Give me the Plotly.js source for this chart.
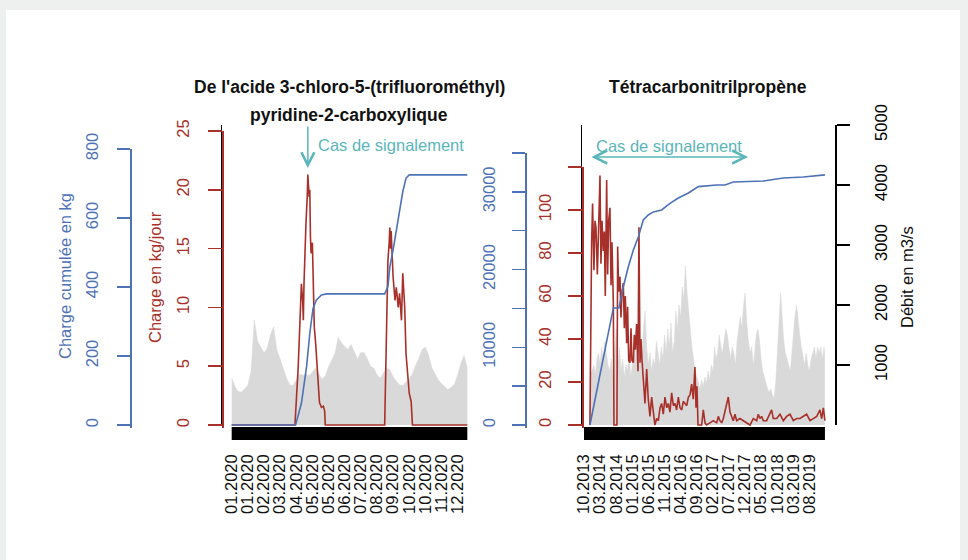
<!DOCTYPE html>
<html><head><meta charset="utf-8">
<script src="https://cdn.plot.ly/plotly-3.0.1.min.js"></script>
<style>html,body{margin:0;padding:0;background:#eef0ef}#chart{width:968px;height:560px}</style>
</head><body><div id="chart"></div>
<script>
// ---------------- LEFT PANEL DATA (2020) ----------------
const leftGrayDates = ['2020-01-01','2020-01-06','2020-01-11','2020-01-16','2020-01-21','2020-01-26','2020-01-31','2020-02-05','2020-02-10','2020-02-15',
'2020-02-20','2020-02-25','2020-03-01','2020-03-06','2020-03-11','2020-03-16','2020-03-21','2020-03-26','2020-03-31','2020-04-05',
'2020-04-10','2020-04-15','2020-04-20','2020-04-25','2020-04-30','2020-05-05','2020-05-10','2020-05-15','2020-05-20','2020-05-25',
'2020-05-30','2020-06-04','2020-06-09','2020-06-14','2020-06-19','2020-06-24','2020-06-29','2020-07-04','2020-07-09','2020-07-14',
'2020-07-19','2020-07-24','2020-07-29','2020-08-03','2020-08-08','2020-08-13','2020-08-18','2020-08-23','2020-08-28','2020-09-02',
'2020-09-07','2020-09-12','2020-09-17','2020-09-22','2020-09-27','2020-10-02','2020-10-07','2020-10-12','2020-10-17','2020-10-22',
'2020-10-27','2020-11-01','2020-11-06','2020-11-11','2020-11-16','2020-11-21','2020-11-26','2020-12-01','2020-12-06','2020-12-11',
'2020-12-16','2020-12-21','2020-12-26','2020-12-31'];
const leftGray = [780,640,560,550,600,660,900,1750,1400,1300,
1200,1280,1500,1640,1250,1100,950,780,670,660,
750,850,830,850,820,880,950,850,760,820,
970,1080,1190,1460,1370,1310,1260,1340,1220,1100,
1210,1210,1110,980,950,840,780,870,950,920,
810,730,670,660,710,770,850,1000,1110,1260,
1300,1170,960,860,750,690,640,590,630,680,
830,1030,1160,950];

const leftRedDates = ['2020-01-01','2020-04-08','2020-04-13','2020-04-15','2020-04-18','2020-04-20','2020-04-21','2020-04-22','2020-04-23','2020-04-25',
'2020-04-27','2020-04-28','2020-04-30','2020-05-01','2020-05-02','2020-05-03','2020-05-05','2020-05-06','2020-05-07','2020-05-08',
'2020-05-10','2020-05-11','2020-05-13','2020-05-16','2020-05-19','2020-05-22','2020-05-24','2020-05-25','2020-08-25','2020-08-28',
'2020-08-29','2020-08-30','2020-09-01','2020-09-02','2020-09-03','2020-09-04','2020-09-07','2020-09-10','2020-09-12','2020-09-15',
'2020-09-17','2020-09-20','2020-09-22','2020-09-25','2020-09-27','2020-09-30','2020-10-02','2020-10-05','2020-10-07','2020-12-31'];
const leftRed = [0,0,4.9,8,12,10.5,8.9,12,14,17,
19.4,21.3,19.4,20,16,14.6,15.5,12.3,9.5,8.3,
7,6.1,3.8,1.9,1.5,1.6,1.2,0,0,8.9,
12,14,15.5,16.8,15,16.5,12.6,10.6,11.7,10,
11.2,8.9,12.9,10,6.1,3.8,2.7,2,0,0];

const leftBlueDates = ['2020-01-01','2020-04-09','2020-04-18','2020-04-26','2020-05-01','2020-05-06','2020-05-11','2020-05-19','2020-05-27','2020-08-25',
'2020-08-30','2020-09-02','2020-09-07','2020-09-12','2020-09-17','2020-09-22','2020-09-27','2020-10-02','2020-12-31'];
const leftBlue = [0,0,63,169,266,338,362,377,380,380,401,459,507,565,623,676,715,725,725];

const leftTickDates = ['2020-01-01','2020-01-26','2020-02-20','2020-03-16','2020-04-10','2020-05-05','2020-05-30','2020-06-24','2020-07-19','2020-08-13','2020-09-07','2020-10-02','2020-10-27','2020-11-21','2020-12-16'];
const leftTickText = ['01.2020','01.2020','02.2020','03.2020','04.2020','05.2020','05.2020','06.2020','07.2020','08.2020','09.2020','10.2020','10.2020','11.2020','12.2020'];
const leftBand = ['2020-01-01','2020-12-31'];
const leftSignal = ['2020-04-28'];

// ---------------- RIGHT PANEL DATA (2013-2019) ----------------
const rightGrayDates = ['2013-12-01','2013-12-16',
'2014-01-01','2014-01-16','2014-02-01','2014-02-16','2014-03-01','2014-03-16','2014-04-01','2014-04-16','2014-05-01','2014-05-16','2014-06-01','2014-06-16','2014-07-01','2014-07-16','2014-08-01','2014-08-16','2014-09-01','2014-09-16','2014-10-01','2014-10-16','2014-11-01','2014-11-16','2014-12-01','2014-12-16',
'2015-01-01','2015-01-16','2015-02-01','2015-02-16','2015-03-01','2015-03-16','2015-04-01','2015-04-16','2015-05-01','2015-05-16','2015-06-01','2015-06-16','2015-07-01','2015-07-16','2015-08-01','2015-08-16','2015-09-01','2015-09-16','2015-10-01','2015-10-16','2015-11-01','2015-11-16','2015-12-01','2015-12-16',
'2016-01-01','2016-01-16','2016-02-01','2016-02-16','2016-03-01','2016-03-16','2016-04-01','2016-04-16','2016-05-01','2016-05-16','2016-06-01','2016-06-16','2016-07-01','2016-07-16','2016-08-01','2016-08-16','2016-09-01','2016-09-16','2016-10-01','2016-10-16','2016-11-01','2016-11-16','2016-12-01','2016-12-16',
'2017-01-01','2017-01-16','2017-02-01','2017-02-16','2017-03-01','2017-03-16','2017-04-01','2017-04-16','2017-05-01','2017-05-16','2017-06-01','2017-06-16','2017-07-01','2017-07-16','2017-08-01','2017-08-16','2017-09-01','2017-09-16','2017-10-01','2017-10-16','2017-11-01','2017-11-16','2017-12-01','2017-12-16',
'2018-01-01','2018-01-16','2018-02-01','2018-02-16','2018-03-01','2018-03-16','2018-04-01','2018-04-16','2018-05-01','2018-05-16','2018-06-01','2018-06-16','2018-07-01','2018-07-16','2018-08-01','2018-08-16','2018-09-01','2018-09-16','2018-10-01','2018-10-16','2018-11-01','2018-11-16','2018-12-01','2018-12-16',
'2019-01-01','2019-01-16','2019-02-01','2019-02-16','2019-03-01','2019-03-16','2019-04-01','2019-04-16','2019-05-01','2019-05-16','2019-06-01','2019-06-16','2019-07-01','2019-07-16','2019-08-01','2019-08-16','2019-09-01','2019-09-16','2019-10-01','2019-10-16','2019-11-01','2019-11-16','2019-12-01','2019-12-16',
'2019-12-24'];
const rightGray = [850,900,
1000,850,1100,1200,1000,1300,1100,1400,1200,1000,900,1100,800,1300,1600,1000,1300,900,1100,800,1000,900,1200,800,
1000,1300,1100,1500,1000,1300,1200,1600,1900,1300,1000,1200,900,1100,1000,1400,1200,1000,1300,1100,1500,1200,1600,1300,
1700,1200,1400,1900,1600,2000,1800,2300,2100,2650,2200,1900,1500,1300,1100,900,800,700,600,750,650,800,700,900,
750,1000,900,1300,1100,1200,1500,1300,1200,1400,1600,1500,1300,1100,1300,1200,1000,1400,1600,1800,1600,2000,2200,1700,
1400,1200,1300,1000,1200,1500,1600,1400,1100,900,800,700,600,550,600,500,450,700,1200,1600,2200,1800,1400,1200,
1100,1000,900,1200,1500,1800,2000,1700,1500,1300,1100,1000,1200,1000,900,1100,1200,1300,1100,1300,1200,1300,1100,1300,
1200];

const rightRedDates = ['2013-11-26','2013-12-03','2013-12-12','2013-12-21','2014-01-03','2014-01-13','2014-01-22','2014-02-04','2014-02-16','2014-03-01',
'2014-03-10','2014-03-20','2014-04-01','2014-04-11','2014-04-20','2014-05-03','2014-05-12','2014-05-22','2014-06-03','2014-06-13',
'2014-06-22','2014-07-05','2014-07-11','2014-08-08','2014-08-15','2014-08-24','2014-09-06','2014-09-15','2014-09-25','2014-10-07',
'2014-10-17','2014-10-26','2014-11-08','2014-11-17','2014-11-27','2014-12-09','2014-12-19','2014-12-28','2015-01-10','2015-01-19',
'2015-01-29','2015-02-10','2015-02-23','2015-03-04','2015-03-14','2015-03-23','2015-04-02','2015-04-14','2015-04-30','2015-05-16',
'2015-05-31','2015-06-16','2015-07-02','2015-07-18','2015-08-02','2015-08-18','2015-09-03','2015-09-19','2015-10-04','2015-10-20',
'2015-11-05','2015-11-21','2015-12-06','2015-12-22','2016-01-07','2016-01-23','2016-02-08','2016-02-23','2016-03-10','2016-03-26',
'2016-04-11','2016-04-26','2016-05-12','2016-05-28','2016-06-13','2016-06-28','2016-07-14','2016-07-29','2016-08-14','2016-08-24',
'2016-09-02','2016-09-12','2016-10-16','2016-11-01','2016-11-17','2016-12-02','2017-01-03','2017-02-03','2017-03-07','2017-03-23',
'2017-04-07','2017-04-23','2017-05-09','2017-05-25','2017-06-09','2017-06-25','2017-07-11','2017-07-27','2017-08-11','2017-08-27',
'2017-09-12','2017-10-13','2017-11-14','2017-12-15','2018-01-16','2018-02-16','2018-03-20','2018-04-04','2018-04-20','2018-05-06',
'2018-05-22','2018-06-22','2018-07-24','2018-08-08','2018-08-24','2018-09-25','2018-10-26','2018-11-27','2018-12-28','2019-01-29',
'2019-03-01','2019-04-01','2019-05-03','2019-06-04','2019-07-05','2019-08-06','2019-09-06','2019-10-08','2019-11-08','2019-11-24',
'2019-12-10','2019-12-25'];
const rightRed = [0,57,85,103,72,95,92,70,100,116,
75,95,81,90,60,114,70,95,101,65,
85,57,0,0,83,62,69,50,62,66,
45,60,38,55,30,29,45,30,29,42,
35,47,25,92,29,40,30,22,10,26,
12,4,13,6,0,3,2,8,10,5,
13,8,10,6,15,9,10,7,13,8,
7,11,10,9,13,14,19,12,27,8,
18,0,0,7,1,0,1,2,1,4,
2,1,3,6,10,13,6,4,2,5,
2,3,2,1,0,3,2,5,3,4,
2,2,5,7,3,3,5,2,4,5,
2,3,3,4,5,2,3,4,7,3,
8,2];

const rightBlueDates = ['2013-11-26','2014-07-05','2014-08-27','2014-10-07','2014-11-23','2015-01-10','2015-02-26','2015-04-14','2015-05-31','2015-07-18',
'2015-10-04','2015-12-22','2016-03-10','2016-06-13','2016-09-15','2017-03-07','2017-05-25','2017-08-11','2018-05-22','2018-11-27',
'2019-06-04','2019-12-25'];
const rightBlue = [0,15060,15060,17760,20330,22520,24200,26380,27030,27420,
27670,28520,29210,29860,30670,30890,30890,31270,31400,31790,
31920,32180];

const rightTickDates = ['2013-10-01','2014-03-01','2014-08-01','2015-01-01','2015-06-01','2015-11-01','2016-04-01','2016-09-01','2017-02-01','2017-07-01','2017-12-01','2018-05-01','2018-10-01','2019-03-01','2019-08-01'];
const rightTickText = ['10.2013','03.2014','08.2014','01.2015','06.2015','11.2015','04.2016','09.2016','02.2017','07.2017','12.2017','05.2018','10.2018','03.2019','08.2019'];
const rightBand = ['2013-10-01','2019-12-25'];
const rightSignal = ['2013-11-26','2017-12-28'];

// axis tick sets
const leftRedTicks = [0,5,10,15,20,25];
const leftBlueTicks = [0,200,400,600,800];
const rightRedTicks = [0,20,40,60,80,100,120];
const rightRedText = ['0','20','40','60','80','100',''];
const rightBlueTicks = [0,5000,10000,15000,20000,25000,30000,35000];
const rightBlueText = ['0','','10000','','20000','','30000',''];
const flowTicks = [1000,2000,3000,4000,5000];

// ---------------- STYLE / LAYOUT ----------------
const W = 968, H = 560;
const px = v => v / W;
const py = v => 1 - v / H;
const RED = '#a8302a', BLUE = '#4e72b6', TEAL = '#5ab6ba', GRAY = '#d9d9d9', INK = '#111111';
const FONT = 'Liberation Sans, Arial, sans-serif';
const FS = 16.5;

const traces = [
  {x: leftGrayDates, y: leftGray, xaxis: 'x', yaxis: 'y', type: 'scatter', mode: 'lines', fill: 'tozeroy', fillcolor: GRAY, line: {width: 0.5, color: GRAY}},
  {x: leftRedDates, y: leftRed, xaxis: 'x', yaxis: 'y2', type: 'scatter', mode: 'lines', line: {width: 1.6, color: RED}},
  {x: leftBlueDates, y: leftBlue, xaxis: 'x', yaxis: 'y3', type: 'scatter', mode: 'lines', line: {width: 1.6, color: BLUE}},
  {x: rightGrayDates, y: rightGray, xaxis: 'x2', yaxis: 'y4', type: 'scatter', mode: 'lines', fill: 'tozeroy', fillcolor: GRAY, line: {width: 0.5, color: GRAY}},
  {x: rightRedDates, y: rightRed, xaxis: 'x2', yaxis: 'y5', type: 'scatter', mode: 'lines', line: {width: 1.6, color: RED}},
  {x: rightBlueDates, y: rightBlue, xaxis: 'x2', yaxis: 'y6', type: 'scatter', mode: 'lines', line: {width: 1.6, color: BLUE}}
];

const base = {showgrid: false, zeroline: false, fixedrange: true};
const yTickAx = (color) => ({
  ...base, showline: true, linecolor: color, linewidth: 1.5, ticks: 'outside', ticklen: 13, tickwidth: 1.5,
  tickcolor: color, tickangle: -90, tickfont: {family: FONT, size: FS, color: color}, tickmode: 'array'
});

const mid = (a, b) => new Date((Date.parse(a) + Date.parse(b)) / 2).toISOString().slice(0, 10);
const txt = (x, y, text, color, extra) => Object.assign({xref: 'paper', yref: 'paper', x: x, y: y, text: text, showarrow: false,
  xanchor: 'center', yanchor: 'middle', font: {family: FONT, size: FS, color: color}}, extra || {});

const layout = {
  width: W, height: H, margin: {l: 0, r: 0, t: 0, b: 0},
  paper_bgcolor: '#eef0ef', plot_bgcolor: 'rgba(0,0,0,0)', showlegend: false,
  font: {family: FONT, size: FS, color: INK},
  xaxis: {...base, domain: [px(222), px(477)], type: 'date', range: ['2019-12-17', '2021-01-15'], anchor: 'y2',
    tickmode: 'array', tickvals: leftTickDates, ticktext: leftTickText, tickangle: -90, ticks: '', showline: false,
    ticklabelstandoff: 22, tickfont: {family: FONT, size: FS, color: INK}},
  yaxis: {...base, domain: [py(425), py(125)], range: [0, 5000], anchor: 'x', showline: true, linecolor: '#000', linewidth: 1.5, ticks: '', showticklabels: false},
  yaxis2: {...yTickAx(RED), domain: [py(428), py(131)], range: [-0.255, 25], anchor: 'free', position: px(222), side: 'left',
    tickvals: leftRedTicks, ticklen: 14, ticklabelstandoff: 12},
  yaxis3: {...yTickAx(BLUE), domain: [py(428), py(149)], range: [-8.7, 800], anchor: 'free', position: px(130), side: 'left',
    tickvals: leftBlueTicks, ticklabelstandoff: 12},
  xaxis2: {...base, domain: [px(582), px(835)], type: 'date', range: ['2013-09-12', '2020-03-29'], anchor: 'y5',
    tickmode: 'array', tickvals: rightTickDates, ticktext: rightTickText, tickangle: -90, ticks: '', showline: false,
    ticklabelstandoff: 22, tickfont: {family: FONT, size: FS, color: INK}},
  yaxis4: {...yTickAx('#000'), domain: [py(425), py(125)], range: [0, 5000], anchor: 'x2', side: 'right', mirror: true,
    tickvals: flowTicks, ticklabelstandoff: 18},
  yaxis5: {...yTickAx(RED), domain: [py(428), py(167)], range: [-1.4, 120], anchor: 'free', position: px(582), side: 'left',
    tickvals: rightRedTicks, ticktext: rightRedText, ticklen: 14, ticklabelstandoff: 10},
  yaxis6: {...yTickAx(BLUE), domain: [py(428), py(153)], range: [-386, 35000], anchor: 'free', position: px(525), side: 'left',
    tickvals: rightBlueTicks, ticktext: rightBlueText, ticklabelstandoff: 10},
  shapes: [
    {type: 'rect', xref: 'paper', yref: 'paper', x0: px(6), x1: px(960), y0: 0, y1: py(10), fillcolor: '#ffffff', line: {width: 0}, layer: 'below'},
    {type: 'rect', xref: 'x', yref: 'paper', x0: leftBand[0], x1: leftBand[1], y0: py(440), y1: py(427), fillcolor: '#000', line: {width: 0}},
    {type: 'rect', xref: 'x2', yref: 'paper', x0: rightBand[0], x1: rightBand[1], y0: py(440), y1: py(427), fillcolor: '#000', line: {width: 0}}
  ],
  annotations: [
    txt(px(349), py(87), "<b>De l'acide 3-chloro-5-(trifluorométhyl)</b>", INK, {font: {family: FONT, size: 17.5, color: INK}}),
    txt(px(349), py(115), '<b>pyridine-2-carboxylique</b>', INK, {font: {family: FONT, size: 17.5, color: INK}}),
    txt(px(708), py(87), '<b>Tétracarbonitrilpropène</b>', INK, {font: {family: FONT, size: 17.5, color: INK}}),
    txt(px(65), py(276), 'Charge cumulée en kg', BLUE, {textangle: -90}),
    txt(px(155), py(277), 'Charge en kg/jour', RED, {textangle: -90}),
    txt(px(907), py(277), 'Débit en m3/s', INK, {textangle: -90}),
    txt(px(316), py(145), 'Cas de signalement', TEAL, {xanchor: 'left'}),
    {xref: 'x', yref: 'paper', x: leftSignal[0], y: py(168), text: '', showarrow: true, axref: 'pixel', ayref: 'pixel', ax: 0, ay: -43,
      arrowhead: 5, arrowsize: 1.7, arrowwidth: 1.5, arrowcolor: TEAL},
    txt(mid(rightSignal[0], rightSignal[1]), py(146), 'Cas de signalement', TEAL, {xref: 'x2'}),
    {xref: 'x2', yref: 'paper', x: rightSignal[1], y: py(157), text: '', showarrow: true, axref: 'x2', ax: rightSignal[0], ayref: 'pixel', ay: 0,
      arrowside: 'end+start', arrowhead: 5, startarrowhead: 5, arrowsize: 1.7, startarrowsize: 1.7, arrowwidth: 1.5, arrowcolor: TEAL}
  ]
};

Plotly.newPlot('chart', traces, layout, {staticPlot: true, displayModeBar: false});
</script></body></html>
